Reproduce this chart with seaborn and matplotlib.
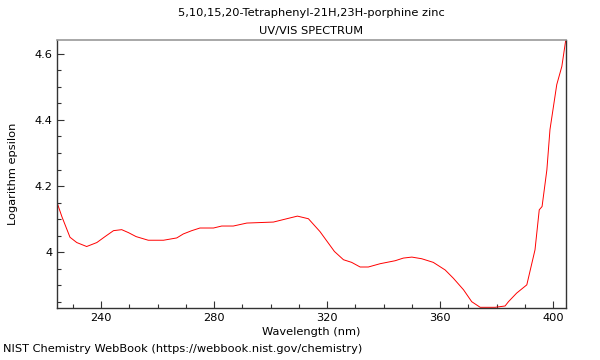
"""
UV/VIS spectrum of 5,10,15,20-Tetraphenyl-21H,23H-porphine zinc (NIST style).
"""

import matplotlib
matplotlib.use('Agg')
import matplotlib.pyplot as plt
import seaborn as sns
import pandas as pd
from matplotlib.ticker import MultipleLocator, FormatStrFormatter

# ============================================
# DATA
# ============================================

wavelength = [224.5, 226.1, 229.0, 231.4, 234.9, 238.5, 241.4, 244.4, 247.3,
              249.7, 252.4, 256.7, 262.1, 266.8, 269.1, 272.1, 275.0, 279.8,
              282.7, 286.8, 291.6, 301.0, 305.7, 309.5, 313.4, 317.5, 322.6,
              325.8, 328.7, 331.7, 334.6, 338.8, 344.1, 347.0, 350.0, 353.5,
              357.6, 361.8, 364.7, 368.3, 371.2, 374.2, 379.5, 383.0, 384.2,
              387.1, 390.7, 393.6, 395.1, 396.1, 397.8, 398.9, 401.3, 403.1,
              404.5]
log_eps = [4.148, 4.108, 4.045, 4.029, 4.017, 4.029, 4.047, 4.065, 4.068,
           4.059, 4.047, 4.036, 4.036, 4.043, 4.055, 4.065, 4.073, 4.073,
           4.079, 4.079, 4.088, 4.091, 4.101, 4.109, 4.101, 4.062, 4.002,
           3.977, 3.969, 3.955, 3.955, 3.965, 3.974, 3.982, 3.985, 3.980,
           3.969, 3.946, 3.921, 3.886, 3.850, 3.833, 3.833, 3.837, 3.850,
           3.876, 3.901, 4.007, 4.128, 4.138, 4.249, 4.371, 4.507, 4.562,
           4.643]

x_ticks = [240, 280, 320, 360, 400]
y_ticks = [4.0, 4.2, 4.4, 4.6]

TITLE = "5,10,15,20-Tetraphenyl-21H,23H-porphine zinc\nUV/VIS SPECTRUM"
FOOTER = "NIST Chemistry WebBook (https://webbook.nist.gov/chemistry)"

# ============================================
# STYLE
# ============================================

sns.set_style("ticks")
plt.rcParams['font.family'] = ['DejaVu Sans']
plt.rcParams['font.size'] = 8.2
plt.rcParams['text.color'] = 'black'
plt.rcParams['axes.labelcolor'] = 'black'

df = pd.DataFrame({'wavelength': wavelength, 'log_eps': log_eps})

fig = plt.figure(figsize=(6, 3.6), dpi=100)
ax = fig.add_axes([0.095, 0.1436, 0.848, 0.7453])

sns.lineplot(data=df, x='wavelength', y='log_eps', ax=ax,
             color='#ff0000', linewidth=0.7, estimator=None, sort=False)

ax.set_xlim(224.4, 404.5)
ax.set_ylim(3.830, 4.642)

ax.set_xticks(x_ticks)
ax.set_yticks(y_ticks)
ax.xaxis.set_minor_locator(MultipleLocator(10))
ax.yaxis.set_minor_locator(MultipleLocator(0.05))
ax.yaxis.set_major_formatter(FormatStrFormatter('%g'))

ax.tick_params(which='both', direction='in', colors='#333333',
               labelcolor='black', labelsize=8.2, width=0.8)
ax.tick_params(which='major', length=5)
ax.tick_params(which='minor', length=3)

for side in ['left', 'bottom', 'right']:
    ax.spines[side].set_color('#333333')
    ax.spines[side].set_linewidth(1.0)
ax.spines['top'].set_color('#999999')
ax.spines['top'].set_linewidth(1.2)

ax.set_xlabel('Wavelength (nm)', fontsize=8.2, labelpad=2.5)
ax.set_ylabel('Logarithm epsilon', fontsize=8.2, labelpad=12)
ax.set_title(TITLE, fontsize=8.2, pad=4, linespacing=2.0, color='black')

fig.text(0.005, 0.018, FOOTER, fontsize=8.2, ha='left', va='bottom')

fig.savefig('out.png', dpi=100, facecolor='white')
plt.close(fig)
